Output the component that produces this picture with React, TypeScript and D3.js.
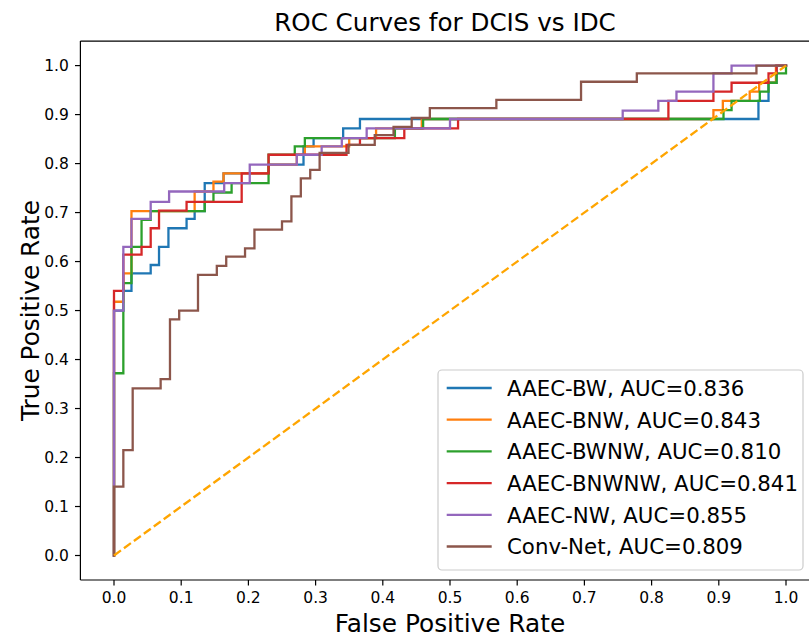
import React from "react";
import * as d3 from "d3";

const seriesNames = ["AAEC-BW", "AAEC-BNW", "AAEC-BWNW", "AAEC-BNWNW", "AAEC-NW", "Conv-Net"];
const aucValues = [0.836, 0.843, 0.81, 0.841, 0.855, 0.809];
const seriesColors = ["#1f77b4", "#ff7f0e", "#2ca02c", "#d62728", "#9467bd", "#8c564b"];

const fprBW = [0, 0, 0.0139, 0.0139, 0.026, 0.026, 0.0546, 0.0546, 0.067, 0.067, 0.081, 0.081, 0.108, 0.108, 0.12, 0.12, 0.135, 0.135, 0.163, 0.163, 0.23, 0.23, 0.282, 0.282, 0.297, 0.297, 0.341, 0.341, 0.366, 0.366, 0.959, 0.959, 0.974, 0.974, 0.986, 0.986, 1];
const tprBW = [0, 0.5, 0.5, 0.54, 0.54, 0.576, 0.576, 0.593, 0.593, 0.63, 0.63, 0.668, 0.668, 0.687, 0.687, 0.703, 0.703, 0.76, 0.76, 0.78, 0.78, 0.798, 0.798, 0.835, 0.835, 0.852, 0.852, 0.872, 0.872, 0.891, 0.891, 0.928, 0.928, 0.965, 0.965, 1, 1];

const fprBNW = [0, 0, 0.0139, 0.0139, 0.026, 0.026, 0.12, 0.12, 0.148, 0.148, 0.163, 0.163, 0.23, 0.23, 0.272, 0.272, 0.284, 0.284, 0.35, 0.35, 0.39, 0.39, 0.458, 0.458, 0.892, 0.892, 0.906, 0.906, 0.946, 0.946, 0.96, 0.96, 0.985, 0.985, 1];
const tprBNW = [0, 0.518, 0.518, 0.576, 0.576, 0.703, 0.703, 0.743, 0.743, 0.763, 0.763, 0.78, 0.78, 0.798, 0.798, 0.818, 0.818, 0.835, 0.835, 0.852, 0.852, 0.872, 0.872, 0.891, 0.891, 0.909, 0.909, 0.928, 0.928, 0.947, 0.947, 0.965, 0.965, 1, 1];

const fprBWNW = [0, 0, 0.0139, 0.0139, 0.026, 0.026, 0.041, 0.041, 0.0546, 0.0546, 0.135, 0.135, 0.148, 0.148, 0.175, 0.175, 0.23, 0.23, 0.269, 0.269, 0.284, 0.284, 0.418, 0.418, 0.46, 0.46, 0.907, 0.907, 0.919, 0.919, 0.961, 0.961, 0.974, 0.974, 0.986, 0.986, 1, 1];
const tprBWNW = [0, 0.372, 0.372, 0.556, 0.556, 0.63, 0.63, 0.685, 0.685, 0.703, 0.703, 0.722, 0.722, 0.741, 0.741, 0.76, 0.76, 0.818, 0.818, 0.835, 0.835, 0.852, 0.852, 0.872, 0.872, 0.891, 0.891, 0.909, 0.909, 0.928, 0.928, 0.947, 0.947, 0.965, 0.965, 0.984, 0.984, 1];

const fprBNWNW = [0, 0, 0.0139, 0.0139, 0.041, 0.041, 0.0546, 0.0546, 0.067, 0.067, 0.108, 0.108, 0.19, 0.19, 0.23, 0.23, 0.346, 0.346, 0.366, 0.366, 0.432, 0.432, 0.512, 0.512, 0.825, 0.825, 0.892, 0.892, 0.919, 0.919, 0.974, 0.974, 0.986, 0.986, 1];
const tprBNWNW = [0, 0.54, 0.54, 0.614, 0.614, 0.63, 0.63, 0.668, 0.668, 0.704, 0.704, 0.722, 0.722, 0.78, 0.78, 0.818, 0.818, 0.838, 0.838, 0.852, 0.852, 0.872, 0.872, 0.891, 0.891, 0.928, 0.928, 0.947, 0.947, 0.965, 0.965, 0.984, 0.984, 1, 1];

const fprNW = [0, 0, 0.0139, 0.0139, 0.026, 0.026, 0.0546, 0.0546, 0.082, 0.082, 0.164, 0.164, 0.202, 0.202, 0.272, 0.272, 0.309, 0.309, 0.339, 0.339, 0.376, 0.376, 0.5, 0.5, 0.757, 0.757, 0.81, 0.81, 0.837, 0.837, 0.892, 0.892, 0.919, 0.919, 1];
const tprNW = [0, 0.5, 0.5, 0.63, 0.63, 0.687, 0.687, 0.722, 0.722, 0.743, 0.743, 0.76, 0.76, 0.798, 0.798, 0.818, 0.818, 0.835, 0.835, 0.852, 0.852, 0.872, 0.872, 0.891, 0.891, 0.908, 0.908, 0.928, 0.928, 0.947, 0.947, 0.984, 0.984, 1, 1];

const fprConv = [0, 0, 0.0139, 0.0139, 0.0278, 0.0278, 0.0694, 0.0694, 0.0833, 0.0833, 0.097, 0.097, 0.125, 0.125, 0.153, 0.153, 0.167, 0.167, 0.195, 0.195, 0.209, 0.209, 0.25, 0.25, 0.264, 0.264, 0.278, 0.278, 0.292, 0.292, 0.306, 0.306, 0.349, 0.349, 0.388, 0.388, 0.416, 0.416, 0.443, 0.443, 0.47, 0.47, 0.569, 0.569, 0.695, 0.695, 0.778, 0.778, 0.956, 0.956, 1];
const tprConv = [0, 0.1405, 0.1405, 0.215, 0.215, 0.341, 0.341, 0.36, 0.36, 0.482, 0.482, 0.5, 0.5, 0.573, 0.573, 0.591, 0.591, 0.61, 0.61, 0.627, 0.627, 0.665, 0.665, 0.682, 0.682, 0.733, 0.733, 0.77, 0.77, 0.787, 0.787, 0.822, 0.822, 0.838, 0.838, 0.858, 0.858, 0.875, 0.875, 0.893, 0.893, 0.913, 0.913, 0.93, 0.93, 0.967, 0.967, 0.984, 0.984, 1, 1];

const fprSeries = [fprBW, fprBNW, fprBWNW, fprBNWNW, fprNW, fprConv];
const tprSeries = [tprBW, tprBNW, tprBWNW, tprBNWNW, tprNW, tprConv];

const chanceLine = [0, 1];
const tickValues = [0, 0.1, 0.2, 0.3, 0.4, 0.5, 0.6, 0.7, 0.8, 0.9, 1.0];

const W = 809;
const H = 640;
const FONT = "DejaVu Sans, sans-serif";

export default function App() {
  const x = d3.scaleLinear().domain([-0.05, 1.05]).range([80.4, 819.6]);
  const y = d3.scaleLinear().domain([-0.05, 1.05]).range([580, 41.1]);
  const left = x(-0.05);
  const right = x(1.05);
  const top = y(1.05);
  const bottom = y(-0.05);

  const line = d3
    .line<[number, number]>()
    .x((d) => x(d[0]))
    .y((d) => y(d[1]));

  const fmt = d3.format(".1f");

  const legendX = 438;
  const legendY = 370;
  const legendW = 365;
  const legendH = 200;
  const rowH = 31.7;
  const firstRow = 388;

  return (
    <svg
      width={W}
      height={H}
      viewBox={`0 0 ${W} ${H}`}
      style={{ position: "absolute", left: 0, top: 0, background: "#fff" }}
      fontFamily={FONT}
    >
      <defs>
        <clipPath id="plotclip">
          <rect x={left} y={top} width={right - left} height={bottom - top} />
        </clipPath>
      </defs>
      <rect x={0} y={0} width={W} height={H} fill="#fff" />

      <g clipPath="url(#plotclip)">
        {fprSeries.map((fx, i) => (
          <path
            key={seriesNames[i]}
            d={line(fx.map((v, j) => [v, tprSeries[i][j]] as [number, number])) || ""}
            fill="none"
            stroke={seriesColors[i]}
            strokeWidth={2.3}
            strokeLinejoin="miter"
            strokeLinecap="square"
          />
        ))}
        <path
          d={line(chanceLine.map((v) => [v, v] as [number, number])) || ""}
          fill="none"
          stroke="orange"
          strokeWidth={2.3}
          strokeDasharray="8.6 3.7"
        />
      </g>

      {/* spines */}
      <line x1={left} x2={left} y1={top} y2={bottom} stroke="#000" strokeWidth={1.2} />
      <line x1={left} x2={right} y1={bottom} y2={bottom} stroke="#000" strokeWidth={1.2} />
      <line x1={left} x2={right} y1={top} y2={top} stroke="#000" strokeWidth={1.2} />
      <line x1={right} x2={right} y1={top} y2={bottom} stroke="#000" strokeWidth={1.2} />

      {/* x ticks */}
      {tickValues.map((t) => (
        <g key={"x" + t}>
          <line x1={x(t)} x2={x(t)} y1={bottom} y2={bottom + 5.4} stroke="#000" strokeWidth={1.2} />
          <text x={x(t)} y={bottom + 22.5} textAnchor="middle" fontSize={15.5} fill="#000">
            {fmt(t)}
          </text>
        </g>
      ))}
      {/* y ticks */}
      {tickValues.map((t) => (
        <g key={"y" + t}>
          <line x1={left - 5.4} x2={left} y1={y(t)} y2={y(t)} stroke="#000" strokeWidth={1.2} />
          <text x={left - 11.5} y={y(t) + 5.6} textAnchor="end" fontSize={15.5} fill="#000">
            {fmt(t)}
          </text>
        </g>
      ))}

      {/* titles */}
      <text x={445} y={31} textAnchor="middle" fontSize={24.6} fill="#000">
        ROC Curves for DCIS vs IDC
      </text>
      <text x={450} y={632} textAnchor="middle" fontSize={24.8} fill="#000">
        False Positive Rate
      </text>
      <text
        transform={`translate(38.5, ${(top + bottom) / 2}) rotate(-90)`}
        textAnchor="middle"
        fontSize={24.8}
        fill="#000"
      >
        True Positive Rate
      </text>

      {/* legend */}
      <rect
        x={legendX}
        y={legendY}
        width={legendW}
        height={legendH}
        rx={4}
        ry={4}
        fill="#fff"
        fillOpacity={0.8}
        stroke="#cccccc"
        strokeWidth={1.2}
      />
      {seriesNames.map((name, i) => {
        const cy = firstRow + i * rowH;
        return (
          <g key={"leg" + name}>
            <line x1={446.7} x2={491.7} y1={cy} y2={cy} stroke={seriesColors[i]} strokeWidth={2.3} />
            <text x={507} y={cy + 7.8} fontSize={21.3} fill="#000">
              {`${name}, AUC=${aucValues[i].toFixed(3)}`}
            </text>
          </g>
        );
      })}
    </svg>
  );
}
